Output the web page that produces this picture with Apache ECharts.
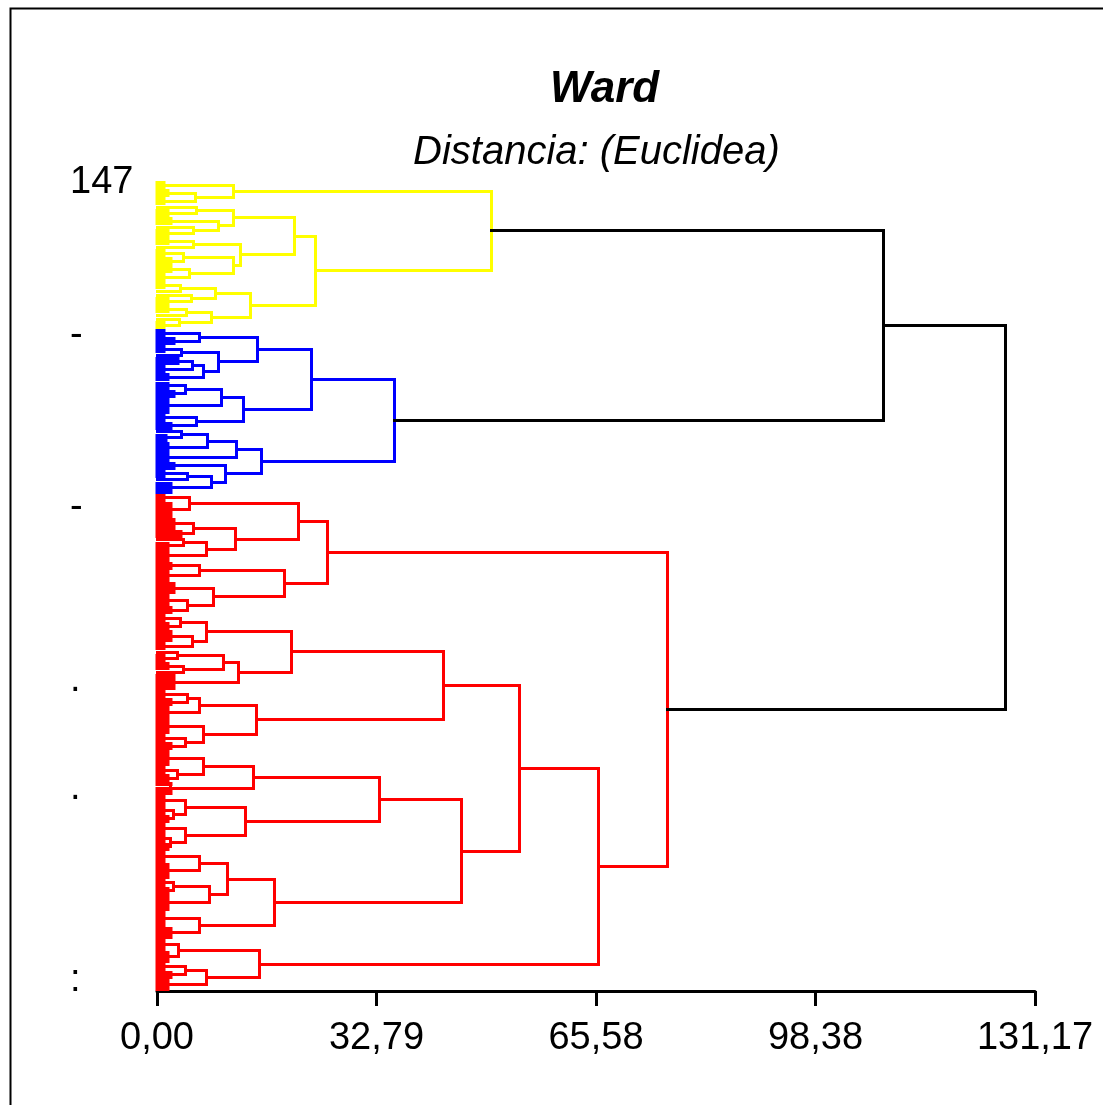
<!DOCTYPE html>
<html><head><meta charset="utf-8">
<script src="https://cdn.jsdelivr.net/npm/echarts@6/dist/echarts.min.js"></script>
<style>html,body{margin:0;padding:0;background:#fff}#main{width:1103px;height:1105px}</style>
</head><body><div id="main"></div>
<script>
// ---- data ----
// node = [height, childA, childB]; leaf bundle = [height, leafCount]
const xTickLabels = ['0,00', '32,79', '65,58', '98,38', '131,17'];
const xMax = 131.17;
const leafCount = 202;
const leafLabelIndex = [0, 38, 81, 124, 151, 199];
const leafLabelText = ['147', '-', '-', '.', '.', ':'];

const yellowCluster = [50.0,
  [11.4, [1.0, 2], [5.7, [1.5, 2], [1.0, 2]]],
  [23.7,
    [20.5,
      [11.4, [5.9, [0, 1], [1.5, 2]], [9.2, [2.0, 2], [5.5, [0, 1], [1.5, 2]]]],
      [12.4, [5.4, [1.5, 2], [0, 1]], [11.4, [3.9, [1.0, 2], [2.0, 2]], [4.8, [2.0, 2], [1.0, 2]]]]
    ],
    [14.0,
      [8.7, [3.5, [1.0, 2], [0, 1]], [5.1, [0, 1], [1.5, 2]]],
      [8.1, [4.4, [1.5, 2], [0, 1]], [3.4, [0, 1], [1.0, 2]]]
    ]
  ]
];

const blueCluster = [35.5,
  [23.1,
    [15.0,
      [6.4, [1.0, 2], [2.5, 2]],
      [9.2, [3.7, [1.0, 2], [0, 1]], [6.9, [5.3, [3.0, 2], [1.0, 2]], [1.5, 2]]]
    ],
    [12.9,
      [9.7, [4.3, [1.5, 2], [2.5, 2]], [1.5, 4]],
      [5.9, [1.0, 2], [2.0, 2]]
    ]
  ],
  [15.6,
    [11.9, [7.5, [3.6, [0, 1], [1.2, 2]], [1.5, 3]], [1.5, 2]],
    [10.2, [2.5, 2], [8.1, [4.5, [1.0, 2], [0, 1]], [2.0, 3]]]
  ]
];

const redUpper = [25.4,
  [21.2,
    [4.9, [1.0, 2], [2.0, 4]],
    [11.7, [5.4, [2.5, 3], [3.5, 2]], [7.4, [4.0, [0, 1], [1.5, 2]], [1.5, 3]]]
  ],
  [19.1,
    [6.4, [2.0, 2], [1.5, 3]],
    [8.5, [2.5, 3], [4.5, [1.5, 3], [2.0, 2]]]
  ]
];

const redLower = [65.9,
  [54.2,
    [42.8,
      [20.1,
        [7.4, [3.5, [1.0, 2], [1.5, 2]], [5.3, [2.0, 3], [1.0, 2]]],
        [12.2, [9.9, [3.0, [0, 1], [1.0, 2]], [4.0, [1.5, 2], [0, 1]]], [2.5, 4]]
      ],
      [14.9,
        [6.4, [4.6, [1.0, 2], [2.0, 2]], [1.5, 3]],
        [6.9, [1.5, 4], [4.2, [1.0, 2], [2.0, 2]]]
      ]
    ],
    [45.5,
      [33.3,
        [14.4, [6.9, [1.5, 4], [3.0, [1.0, 2], [1.5, 2]]], [2.0, 3]],
        [13.2, [4.3, [1.0, 3], [2.5, [1.0, 2], [1.5, 2]]], [4.3, [1.0, 3], [2.0, [1.0, 2], [1.5, 2]]]]
      ],
      [17.5,
        [10.6, [6.3, [1.0, 3], [1.5, 4]], [7.9, [2.5, [1.0, 2], [1.5, 2]], [1.5, 4]]],
        [6.4, [1.0, 4], [2.0, 3]]
      ]
    ]
  ],
  [15.3,
    [3.2, [1.0, 3], [1.5, 3]],
    [7.4, [4.3, [1.0, 2], [2.0, 2]], [1.5, 3]]
  ]
];

// heights of the joins above the coloured clusters: yellow+blue, red halves, root
const mergeHeights = [108.5, 76.3, 126.7];
const clusterColors = ['#FFFF00', '#0000FF', '#FF0000', '#000000'];

// ---- build segments from the tree ----
const shapes = [];
let nextLeaf = 0;
function join(A, B, h, color) {
  shapes.push({ pts: [[A.h, A.y], [h, A.y], [h, B.y], [B.h, B.y]], color, w: 3 });
  return { y: (A.y + B.y) / 2, h };
}
function layout(node, color) {
  if (node.length === 2) {
    const h = node[0], n = node[1];
    const y0 = nextLeaf; nextLeaf += n;
    if (n > 1) {
      for (let i = 0; i < n; i++) shapes.push({ pts: [[0, y0 + i], [h, y0 + i]], color, w: 4 });
      shapes.push({ pts: [[h, y0], [h, y0 + n - 1]], color, w: 3 });
      return { y: y0 + (n - 1) / 2, h };
    }
    return { y: y0, h: 0 };
  }
  const A = layout(node[1], color);
  const B = layout(node[2], color);
  return join(A, B, node[0], color);
}
const Yc = layout(yellowCluster, clusterColors[0]);
const Bc = layout(blueCluster, clusterColors[1]);
const YB = join(Yc, Bc, mergeHeights[0], clusterColors[3]);
const RU = layout(redUpper, clusterColors[2]);
const RL = layout(redLower, clusterColors[2]);
const Rc = join(RU, RL, mergeHeights[1], clusterColors[2]);
join(YB, Rc, mergeHeights[2], clusterColors[3]);

const leafLabels = [];
for (let i = 0; i < leafCount; i++) leafLabels.push('');
leafLabelIndex.forEach((idx, k) => { leafLabels[idx] = leafLabelText[k]; });

function snap(v, w) {
  return w % 2 ? Math.round(v - 0.5) + 0.5 : Math.round(v);
}

const FONT = '"Liberation Sans", Arial, sans-serif';
const chart = echarts.init(document.getElementById('main'), null, { renderer: 'canvas' });
chart.setOption({
  animation: false,
  backgroundColor: '#ffffff',
  title: [
    { text: 'Ward', left: 545, top: 63,
      textStyle: { fontFamily: FONT, fontSize: 44, fontWeight: 'bold', fontStyle: 'italic', color: '#000' } },
    { text: 'Distancia: (Euclidea)', left: 408, top: 128,
      textStyle: { fontFamily: FONT, fontSize: 40, fontWeight: 'normal', fontStyle: 'italic', color: '#000' } }
  ],
  graphic: [{
    type: 'rect', left: 8, top: 6, silent: true,
    shape: { width: 1200, height: 1200 },
    style: { fill: null, stroke: '#000', lineWidth: 2 }
  }],
  grid: { left: 157, right: 68, top: 181, bottom: 114 },
  xAxis: {
    type: 'value', min: 0, max: xMax, interval: xMax / 4,
    splitLine: { show: false },
    axisLine: { show: true, onZero: false, lineStyle: { color: '#000', width: 3 } },
    axisTick: { show: true, inside: false, length: 15, lineStyle: { color: '#000', width: 3 } },
    axisLabel: { margin: 29, fontSize: 38, color: '#000', fontFamily: FONT,
      formatter: (v, i) => xTickLabels[i] !== undefined ? xTickLabels[i] : '' }
  },
  yAxis: [
    { type: 'value', min: -0.5, max: leafCount - 0.5, inverse: true, show: false },
    { type: 'category', data: leafLabels, inverse: true, position: 'left',
      axisLine: { show: false }, axisTick: { show: false }, splitLine: { show: false },
      axisLabel: { interval: 0, align: 'left', margin: 87, fontSize: 38, color: '#000', fontFamily: FONT } }
  ],
  series: [{
    type: 'custom', coordinateSystem: 'cartesian2d', xAxisIndex: 0, yAxisIndex: 0,
    silent: true, clip: false,
    data: shapes.map((s, i) => [s.pts[0][0], s.pts[0][1], i]),
    encode: { x: 0, y: 1 },
    renderItem: (params, api) => {
      const s = shapes[api.value(2)];
      const pts = s.pts.map(p => {
        const c = api.coord(p);
        return [snap(c[0], 3), snap(c[1], s.w)];
      });
      return {
        type: 'polyline',
        shape: { points: pts },
        style: { stroke: s.color, lineWidth: s.w, fill: null, lineJoin: 'miter', lineCap: 'square' }
      };
    }
  }]
});
</script>
</body></html>
